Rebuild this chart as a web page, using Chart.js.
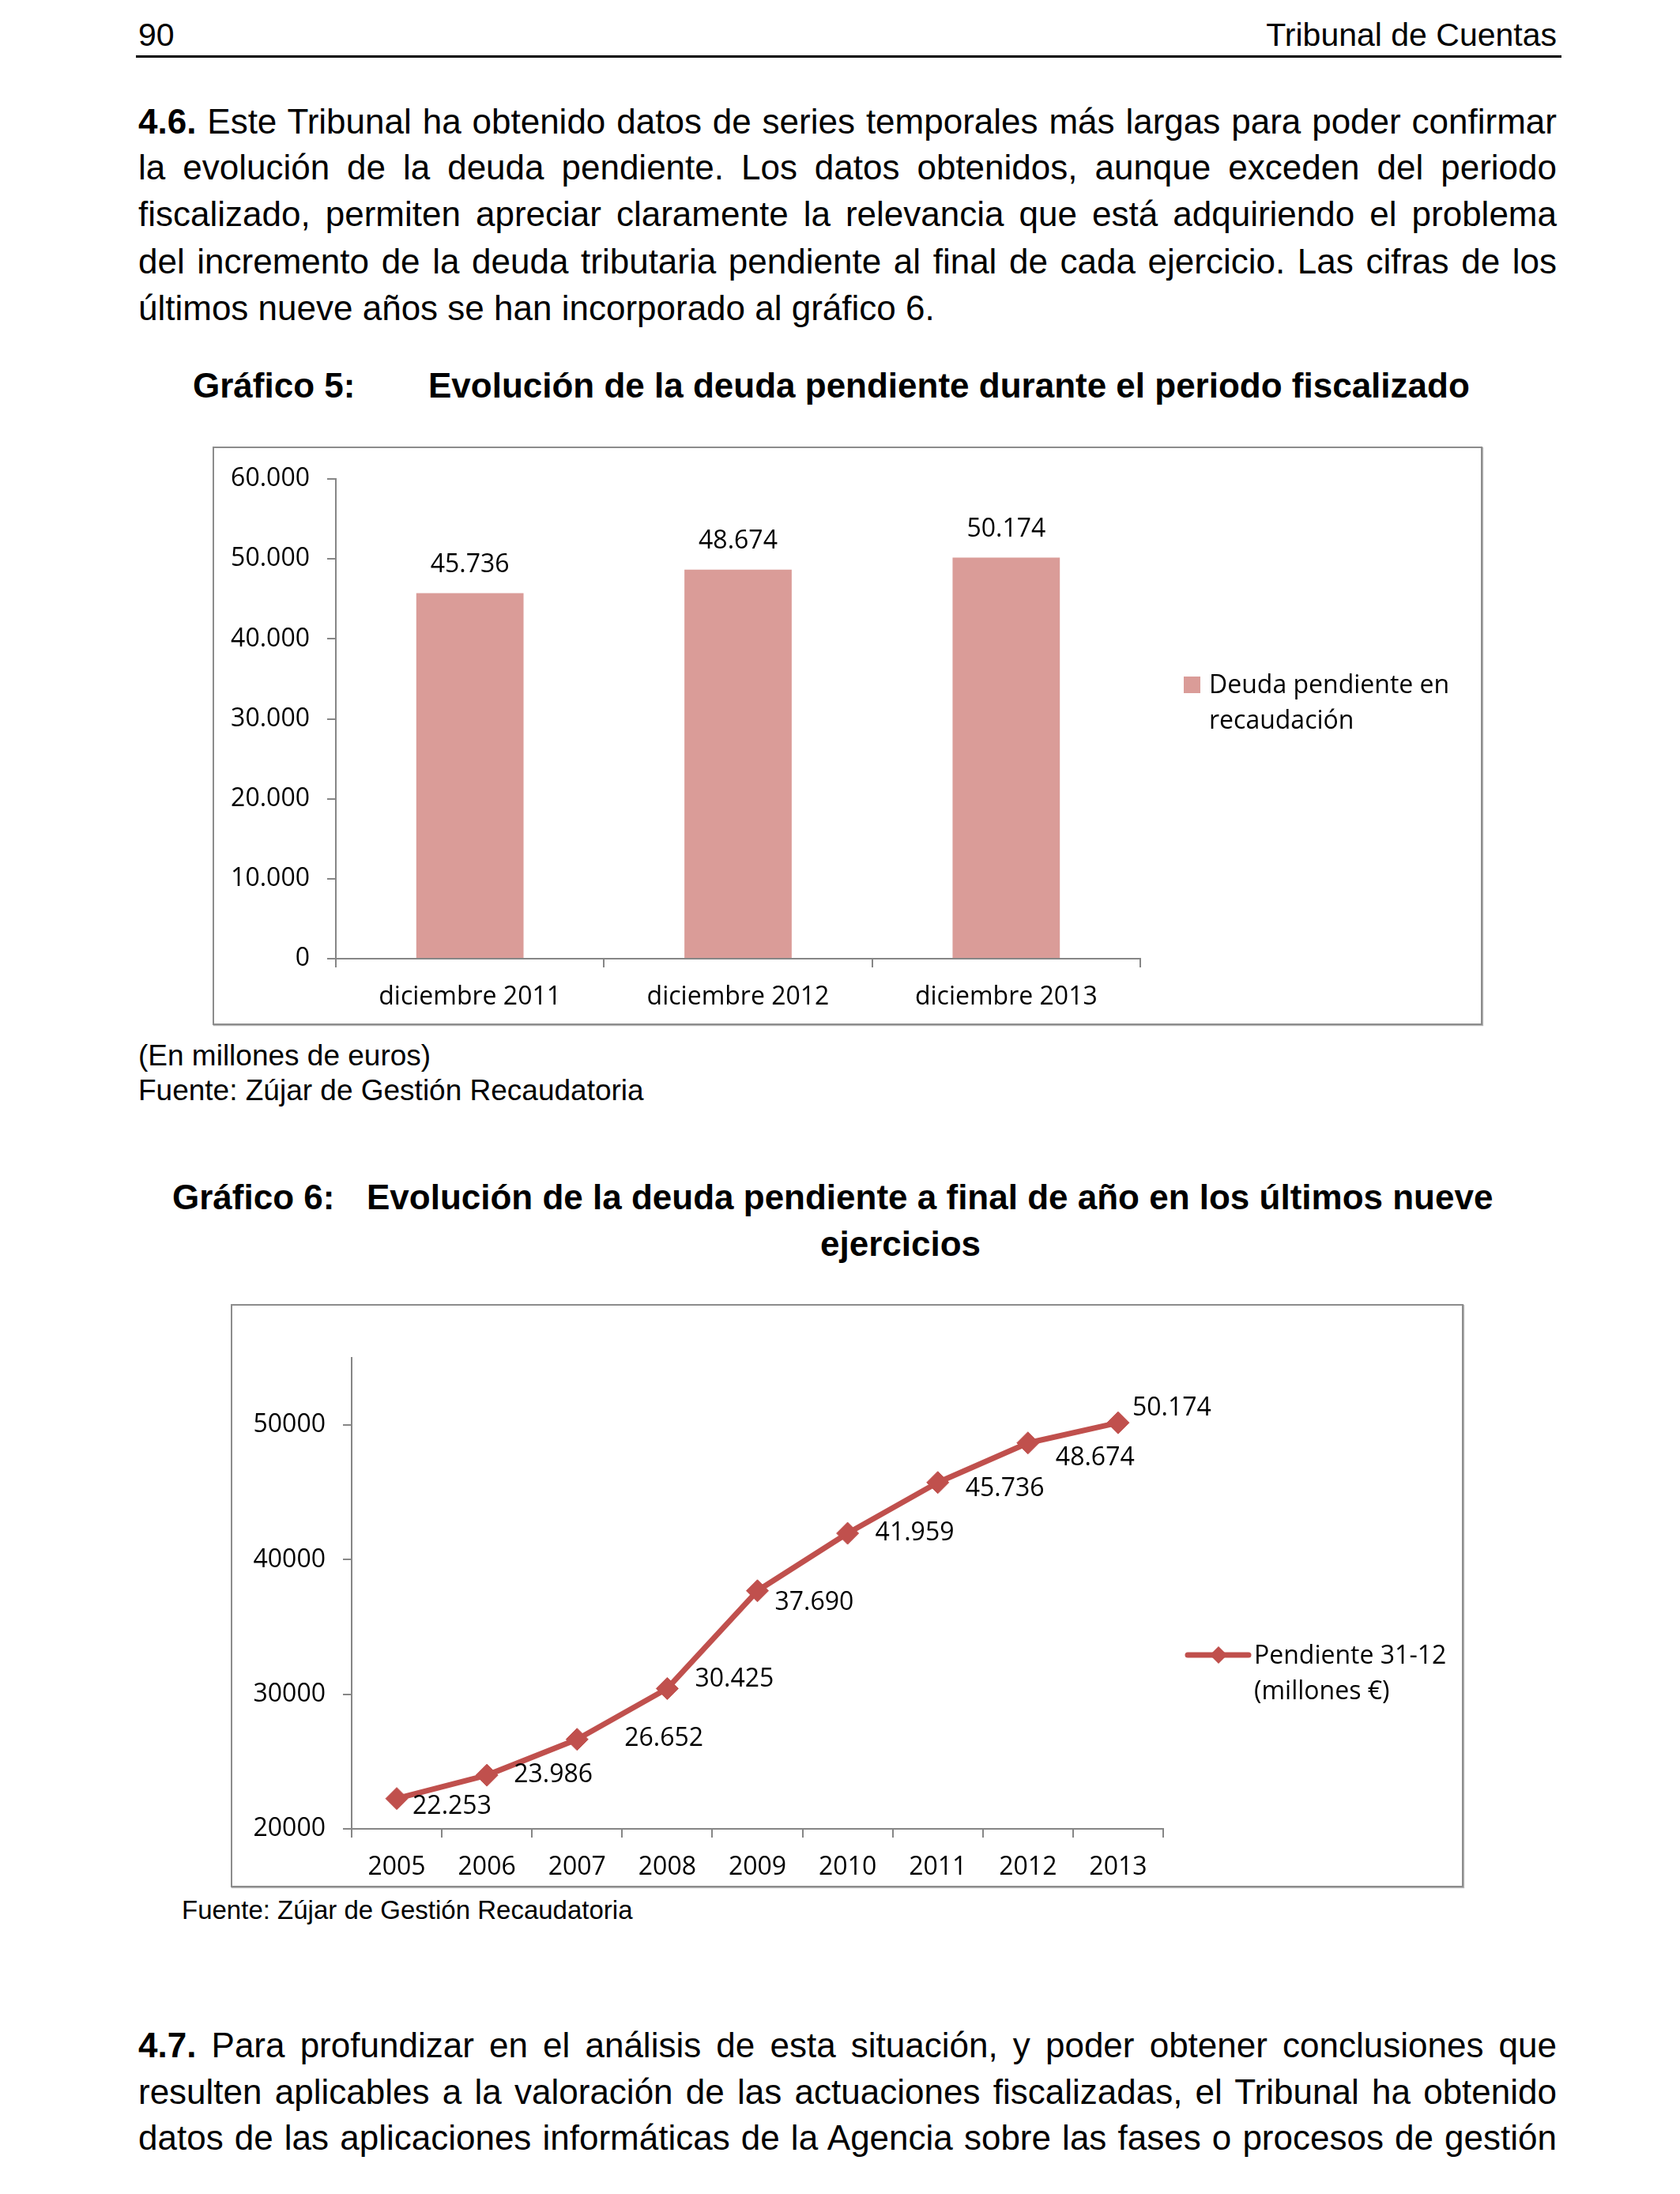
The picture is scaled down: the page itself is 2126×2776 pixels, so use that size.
<!DOCTYPE html>
<html>
<head>
<meta charset="utf-8">
<script src="https://cdn.jsdelivr.net/npm/chart.js@4.4.0/dist/chart.umd.min.js"></script>
<style>
  body { margin: 0; width: 2126px; height: 2776px; position: relative; background: #fff;
         font-family: "Liberation Sans", Arial, sans-serif; color: #000; }
  .t { position: absolute; white-space: nowrap; font-size: 44px; line-height: 44px; }
  .b { font-weight: bold; }
  .p { position: absolute; left: 175px; width: 1795px; font-size: 44px; line-height: 44px;
       text-align: justify; text-align-last: justify; }
  .p.last { text-align-last: left; }
  .small { font-size: 37px; line-height: 37px; }
  .box { position: absolute; border: 2px solid #8c8c8c; box-shadow: 1px 1px 1px #b8b8b8; background: #fff; }
  canvas { position: absolute; }
</style>
</head>
<body>

<div class="t" style="left:175px;top:24px;font-size:41px;line-height:41px">90</div>
<div class="t" style="right:156px;top:24px;font-size:41px;line-height:41px">Tribunal de Cuentas</div>
<div style="position:absolute;left:172px;top:70px;width:1804px;height:3px;background:#000"></div>

<div class="p" style="top:132px"><b>4.6.</b> Este Tribunal ha obtenido datos de series temporales más largas para poder confirmar</div>
<div class="p" style="top:190px">la evolución de la deuda pendiente. Los datos obtenidos, aunque exceden del periodo</div>
<div class="p" style="top:249px">fiscalizado, permiten apreciar claramente la relevancia que está adquiriendo el problema</div>
<div class="p" style="top:309px">del incremento de la deuda tributaria pendiente al final de cada ejercicio. Las cifras de los</div>
<div class="p last" style="top:368px">últimos nueve años se han incorporado al gráfico 6.</div>

<div class="t b" style="left:244px;top:466px">Gráfico 5:</div>
<div class="t b" style="left:542px;top:466px">Evolución de la deuda pendiente durante el periodo fiscalizado</div>

<div class="box" style="left:269px;top:565px;width:1603px;height:728px"></div>
<canvas id="chart5" width="1607" height="732" style="left:269px;top:565px"></canvas>

<div class="t small" style="left:175px;top:1317px">(En millones de euros)</div>
<div class="t small" style="left:175px;top:1361px">Fuente: Zújar de Gestión Recaudatoria</div>

<div class="t b" style="left:218px;top:1493px">Gráfico 6:</div>
<div class="t b" style="left:464px;top:1493px">Evolución de la deuda pendiente a final de año en los últimos nueve</div>
<div class="t b" style="left:1038px;top:1552px;width:200px;text-align:center">ejercicios</div>

<div class="box" style="left:292px;top:1650px;width:1556px;height:734px"></div>
<canvas id="chart6" width="1560" height="738" style="left:292px;top:1650px"></canvas>

<div class="t" style="left:230px;top:2400px;font-size:33px;line-height:33px">Fuente: Zújar de Gestión Recaudatoria</div>

<div class="p" style="top:2566px"><b>4.7.</b> Para profundizar en el análisis de esta situación, y poder obtener conclusiones que</div>
<div class="p" style="top:2625px">resulten aplicables a la valoración de las actuaciones fiscalizadas, el Tribunal ha obtenido</div>
<div class="p" style="top:2683px">datos de las aplicaciones informáticas de la Agencia sobre las fases o procesos de gestión</div>

<script>
// ----- datos -----
const meses5 = ['diciembre 2011', 'diciembre 2012', 'diciembre 2013'];
const deuda5 = [45736, 48674, 50174];
const ticksY5 = [0, 10000, 20000, 30000, 40000, 50000, 60000];

const anios6 = ['2005', '2006', '2007', '2008', '2009', '2010', '2011', '2012', '2013'];
const pendiente6 = [22253, 23986, 26652, 30425, 37690, 41959, 45736, 48674, 50174];
const ticksY6 = [20000, 30000, 40000, 50000];
const topeY6 = 55000;

const leyenda5 = ['Deuda pendiente en', 'recaudación'];
const leyenda6 = ['Pendiente 31-12', '(millones €)'];

const ROJO_BARRA = '#DA9C98';
const ROJO_LINEA = '#C0504D';
const GRIS_EJE = '#868686';
const FUENTE = '32px "Open Sans"';

Chart.defaults.font.family = '"Open Sans", "Noto Sans", sans-serif';
Chart.defaults.font.size = 32;
Chart.defaults.color = '#000';

function miles(v) {
    return String(v).replace(/\B(?=(\d{3})+(?!\d))/g, '.');
}

// etiquetas de valor junto a cada marca
const etiquetas = {
    id: 'etiquetas',
    afterDatasetsDraw(chart, args, opts) {
        const ctx = chart.ctx;
        const meta = chart.getDatasetMeta(0);
        const data = chart.data.datasets[0].data;
        ctx.save();
        ctx.font = FUENTE;
        ctx.fillStyle = '#000';
        ctx.textBaseline = 'middle';
        meta.data.forEach((el, i) => {
            if (opts.modo === 'barra') {
                ctx.textAlign = 'center';
                ctx.fillText(miles(data[i]), el.x, el.y - 36);
            } else {
                const d = opts.desplaza[i];
                ctx.textAlign = 'left';
                ctx.fillText(miles(data[i]), el.x + d[0], el.y + d[1]);
            }
        });
        ctx.restore();
    }
};

// leyenda a la derecha, dibujada a mano
const leyenda = {
    id: 'leyenda',
    afterDraw(chart, args, opts) {
        const ctx = chart.ctx;
        ctx.save();
        if (opts.modo === 'barra') {
            ctx.fillStyle = ROJO_BARRA;
            ctx.fillRect(opts.x, opts.y - 21, 21, 21);
        } else {
            ctx.strokeStyle = ROJO_LINEA;
            ctx.lineWidth = 7;
            ctx.lineCap = 'round';
            ctx.beginPath();
            ctx.moveTo(opts.x, opts.y - 11);
            ctx.lineTo(opts.x + 77, opts.y - 11);
            ctx.stroke();
            const cx = opts.x + 39, cy = opts.y - 11, r = 11;
            ctx.fillStyle = ROJO_LINEA;
            ctx.beginPath();
            ctx.moveTo(cx - r, cy); ctx.lineTo(cx, cy - r); ctx.lineTo(cx + r, cy); ctx.lineTo(cx, cy + r);
            ctx.closePath();
            ctx.fill();
        }
        ctx.font = FUENTE;
        ctx.fillStyle = '#000';
        ctx.textBaseline = 'alphabetic';
        ctx.textAlign = 'left';
        opts.lineas.forEach((t, i) => ctx.fillText(t, opts.tx, opts.y + i * 45));
        ctx.restore();
    }
};

function ejes(anchoY, altoX, ticksY, formato) {
    const grid = { display: true, drawOnChartArea: false, drawTicks: true, tickLength: 11, color: GRIS_EJE, lineWidth: 2 };
    const border = { display: true, color: GRIS_EJE, width: 2 };
    return {
        x: {
            offset: true,
            grid: Object.assign({ offset: true }, grid), border: border,
            ticks: { padding: 19, maxRotation: 0, autoSkip: false },
            afterFit(s) { s.height = altoX; }
        },
        y: {
            grid: grid, border: border,
            ticks: { padding: 22, autoSkip: false, callback: formato },
            afterBuildTicks(s) { s.ticks = ticksY.map(v => ({ value: v })); },
            afterFit(s) { s.width = anchoY; }
        }
    };
}

// ----- Gráfico 5 -----
const escalas5 = ejes(156, 84, ticksY5, v => miles(v));
escalas5.y.min = ticksY5[0];
escalas5.y.max = ticksY5[ticksY5.length - 1];

new Chart(document.getElementById('chart5'), {
    type: 'bar',
    data: {
        labels: meses5,
        datasets: [{
            label: 'Deuda pendiente en recaudación',
            data: deuda5,
            backgroundColor: ROJO_BARRA,
            barPercentage: 0.4,
            categoryPercentage: 1.0
        }]
    },
    options: {
        responsive: false,
        animation: false,
        layout: { padding: { left: 0, right: 433, top: 36, bottom: 0 } },
        scales: escalas5,
        plugins: {
            legend: { display: false },
            tooltip: { enabled: false },
            etiquetas: { modo: 'barra' },
            leyenda: { modo: 'barra', x: 1229, y: 312, tx: 1261, lineas: leyenda5 }
        }
    },
    plugins: [etiquetas, leyenda]
});

// ----- Gráfico 6 -----
const escalas6 = ejes(153, 74, ticksY6, v => String(v));
escalas6.y.min = ticksY6[0];
escalas6.y.max = topeY6;

new Chart(document.getElementById('chart6'), {
    type: 'line',
    data: {
        labels: anios6,
        datasets: [{
            label: 'Pendiente 31-12 (millones €)',
            data: pendiente6,
            borderColor: ROJO_LINEA,
            borderWidth: 7,
            borderCapStyle: 'round',
            borderJoinStyle: 'round',
            tension: 0,
            fill: false,
            pointStyle: 'rectRot',
            pointRadius: 14,
            pointBackgroundColor: ROJO_LINEA,
            pointBorderColor: ROJO_LINEA,
            pointBorderWidth: 1,
            clip: false
        }]
    },
    options: {
        responsive: false,
        animation: false,
        layout: { padding: { left: 0, right: 380, top: 68, bottom: 0 } },
        scales: escalas6,
        plugins: {
            legend: { display: false },
            tooltip: { enabled: false },
            etiquetas: {
                modo: 'linea',
                desplaza: [[20, 10], [34, 0], [60, -1], [35, -12], [22, 15], [35, 0], [35, 8], [35, 19], [18, -18]]
            },
            leyenda: { modo: 'linea', x: 1211, y: 455, tx: 1295, lineas: leyenda6 }
        }
    },
    plugins: [etiquetas, leyenda]
});
</script>
</body>
</html>
